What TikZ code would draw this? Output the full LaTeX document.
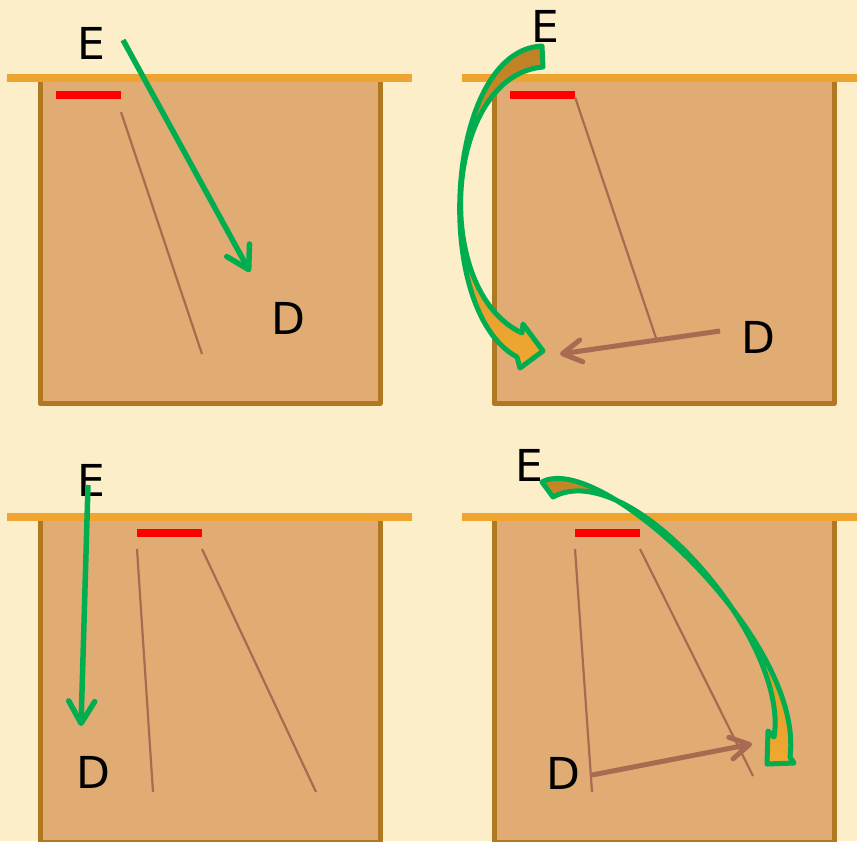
\documentclass[tikz,border=0pt]{standalone}
\usepackage{fontspec}
\setmainfont{DejaVu Sans}
\usetikzlibrary{arrows.meta}
\definecolor{bgc}{HTML}{FCEEC9}
\definecolor{soil}{HTML}{E1AB74}
\definecolor{soilrim}{HTML}{B07820}
\definecolor{ground}{HTML}{EFA42F}
\definecolor{rayc}{HTML}{A86A50}
\definecolor{grn}{HTML}{00AE50}
\definecolor{arrtop}{HTML}{BF8126}
\definecolor{arrbot}{HTML}{F0A830}
\tikzset{
  lbl/.style={font=\fontsize{44}{44}\selectfont, inner sep=0pt, anchor=center},
  pit/.style={fill=soil, draw=soilrim, line width=5pt, line join=round},
  groundline/.style={draw=ground, line width=8pt},
  redbar/.style={draw=red, line width=8pt},
  ray/.style={draw=rayc, line width=2.2pt},
  rayarrow/.style={draw=rayc, line width=5pt,
    -{Straight Barb[length=19pt,width=22pt,line cap=round,line join=round]}},
  grnarrow/.style={draw=grn, line width=5.5pt,
    -{Straight Barb[length=22pt,width=26pt,line cap=round,line join=round]}},
  bigarrow/.style={draw=grn, line width=5pt, line join=round,
    top color=arrtop, bottom color=arrbot},
}
\begin{document}
\begin{tikzpicture}[x=1pt,y=-1pt]
\useasboundingbox (0,0) rectangle (857,841);
\fill[bgc] (0,0) rectangle (857,841);

% ---------- pits ----------
\filldraw[pit] (40,78) -- (40,403.5) -- (380,403.5) -- (380,78);
\filldraw[pit] (494,78) -- (494,403.5) -- (834,403.5) -- (834,78);
\filldraw[pit] (40,517) -- (40,842.5) -- (380,842.5) -- (380,517);
\filldraw[pit] (494,517) -- (494,842.5) -- (834,842.5) -- (834,517);

% ---------- ground lines ----------
\draw[groundline] (7,78) -- (412,78);
\draw[groundline] (462,78) -- (860,78);
\draw[groundline] (7,517) -- (412,517);
\draw[groundline] (462,517) -- (860,517);

% ---------- red bars ----------
\draw[redbar] (56,95) -- (121,95);
\draw[redbar] (510,95) -- (575,95);
\draw[redbar] (137,533) -- (202,533);
\draw[redbar] (575,533) -- (640,533);

% ---------- rays ----------
\draw[ray] (121,112) -- (202,354);
\draw[ray] (575,97) -- (656,338);
\draw[ray] (137,549) -- (153,792);
\draw[ray] (202,549) -- (316,792);
\draw[ray] (575,549) -- (592,792);
\draw[ray] (640,549) -- (753,776);

% ---------- labels ----------
\node[lbl] (e1) at (91,43) {E};
\node[lbl] (d1) at (288,318) {D};
\node[lbl] (e2) at (545,26) {E};
\node[lbl] (d2) at (758,337) {D};
\node[lbl] (e3) at (91,480) {E};
\node[lbl] (d3) at (93,772) {D};
\node[lbl] (e4) at (529,465) {E};
\node[lbl] (d4) at (563,773) {D};

% ---------- straight green arrows ----------
\coordinate (g1s) at (123,40);
\coordinate (g1e) at (250,272);
\draw[grnarrow] (g1s) -- (g1e);
\coordinate (g3s) at (88,485);
\coordinate (g3e) at (81,726);
\draw[grnarrow] (g3s) -- (g3e);

% ---------- brown arrows ----------
\coordinate (b2s) at (720,331);
\coordinate (b2e) at (560,354);
\draw[rayarrow] (b2s) -- (b2e);
\coordinate (b4s) at (592,775);
\coordinate (b4e) at (752,744);
\draw[rayarrow] (b4s) -- (b4e);

% ---------- curved block arrows ----------
\filldraw[bigarrow] (542,46) .. controls (445,50) and (430,310) .. (517,357)
  -- (520,368) -- (543,351) -- (523,324) -- (522,333)
  .. controls (430,290) and (445,75) .. (543,67) -- cycle;
\filldraw[bigarrow] (542,482) .. controls (600,450) and (805,640) .. (790,757)
  -- (794,763) -- (767,764) -- (768,731) -- (774,737)
  .. controls (790,640) and (630,455) .. (553,497) -- cycle;
\end{tikzpicture}
\end{document}
